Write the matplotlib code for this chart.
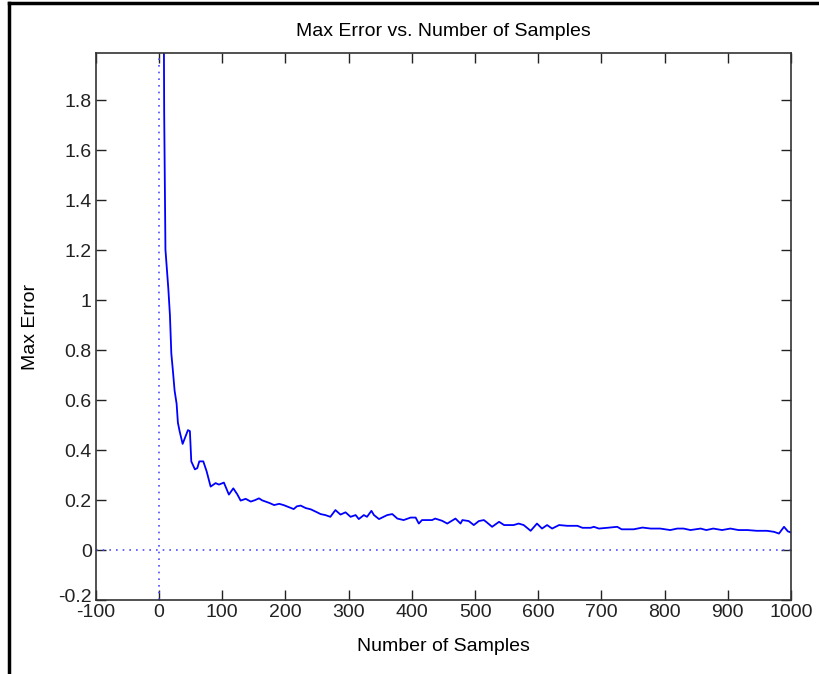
import matplotlib.pyplot as plt
from matplotlib.lines import Line2D
from matplotlib.transforms import ScaledTranslation

plt.rcParams['font.family'] = ['Liberation Sans Narrow', 'Liberation Sans', 'DejaVu Sans']

# samples vs max error
samples = [6, 8, 10, 14.6, 17.1, 19.3, 21.8, 24.5, 27.7, 29.7, 32.4, 37.2, 45.6, 48.7,
           50.9, 56.6, 60.4, 63.6, 69.9, 75.2, 81.5, 89.4, 94.6, 102.5, 110.4, 117.4,
           123.7, 129, 137, 145, 152, 158, 163, 168.5, 175, 182, 190, 197, 205, 213,
           218, 224, 232, 240, 250, 255.5, 263, 271, 279, 287, 295, 303, 311, 316,
           324, 329, 336, 340, 348, 361, 369, 377, 387, 398, 406, 411, 416, 432,
           437, 448, 456, 469, 477, 480, 490, 498, 506, 514, 519, 527, 538, 546,
           561, 569, 577, 588, 598, 606, 614, 622, 633, 646, 662, 670, 683, 688,
           696, 709, 725, 732, 751, 765, 778, 793, 809, 820, 830, 841, 857, 866,
           877, 891, 904, 917, 931, 946, 962, 973, 981, 989, 995, 1000]
max_error = [3.0, 1.755, 1.203, 1.045, 0.940, 0.787, 0.718, 0.638, 0.585, 0.510,
             0.476, 0.425, 0.480, 0.476, 0.355, 0.323, 0.328, 0.355, 0.355, 0.315,
             0.254, 0.268, 0.262, 0.270, 0.222, 0.247, 0.223, 0.198, 0.205, 0.194,
             0.200, 0.207, 0.199, 0.194, 0.188, 0.180, 0.185, 0.180, 0.172, 0.164,
             0.175, 0.178, 0.168, 0.163, 0.151, 0.144, 0.140, 0.133, 0.160, 0.142,
             0.151, 0.133, 0.140, 0.124, 0.140, 0.133, 0.157, 0.140, 0.124, 0.140,
             0.144, 0.126, 0.120, 0.130, 0.130, 0.106, 0.120, 0.120, 0.126, 0.117,
             0.106, 0.126, 0.106, 0.120, 0.116, 0.100, 0.116, 0.120, 0.110, 0.093,
             0.113, 0.100, 0.100, 0.106, 0.100, 0.077, 0.106, 0.086, 0.100, 0.086,
             0.100, 0.097, 0.097, 0.089, 0.089, 0.093, 0.086, 0.089, 0.093, 0.083,
             0.083, 0.090, 0.086, 0.086, 0.080, 0.086, 0.086, 0.080, 0.086, 0.080,
             0.086, 0.080, 0.086, 0.080, 0.080, 0.077, 0.077, 0.073, 0.066, 0.093,
             0.075, 0.070]

xticks = list(range(-100, 1001, 100))
yticks = [-0.2, 0, 0.2, 0.4, 0.6, 0.8, 1, 1.2, 1.4, 1.6, 1.8]
ytick_labels = ["-0.2", "0", "0.2", "0.4", "0.6", "0.8", "1", "1.2", "1.4", "1.6", "1.8"]

fig = plt.figure(figsize=(8.2, 6.74), dpi=100)
ax = fig.add_axes([0.117, 0.1098, 0.8476, 0.8116])

# dotted zero lines
ax.axvline(0, color=(0.3, 0.3, 1.0), ls=(0, (1, 3)), lw=1.2)
ax.axhline(0, color=(0.3, 0.3, 1.0), ls=(0, (1, 3)), lw=1.2)
ax.plot(samples, max_error, color=(0, 0, 1), lw=1.3)

ax.set_xlim(-100, 1000)
ax.set_ylim(-0.2, 1.99)
ax.set_xticks(xticks)
ax.set_xticklabels([str(t) for t in xticks])
ax.set_yticks(yticks)
ax.set_yticklabels(ytick_labels)
ax.tick_params(direction="in", top=True, right=True, length=7, width=1,
               labelsize=14, pad=3, colors="#222222")
for s in ax.spines.values():
    s.set_color("#333333")
    s.set_linewidth(1.2)

# lift the -0.2 label a little so it clears the -100 label
lbl = ax.get_yticklabels()[0]
lbl.set_transform(lbl.get_transform() + ScaledTranslation(0, 4 / 100, fig.dpi_scale_trans))

ax.set_title("Max Error vs. Number of Samples", fontsize=14, pad=12)
ax.set_xlabel("Number of Samples", fontsize=14, labelpad=12)
ax.set_ylabel("Max Error", fontsize=14, labelpad=14)

# black frame on the left and top edge of the screenshot
fig.add_artist(Line2D([9 / 820, 9 / 820], [0, 1 - 3 / 674], color="black", lw=2.5,
                      transform=fig.transFigure))
fig.add_artist(Line2D([9 / 820, 1], [1 - 3 / 674, 1 - 3 / 674], color="black", lw=2.5,
                      transform=fig.transFigure))

fig.savefig("out.png", dpi=100)
